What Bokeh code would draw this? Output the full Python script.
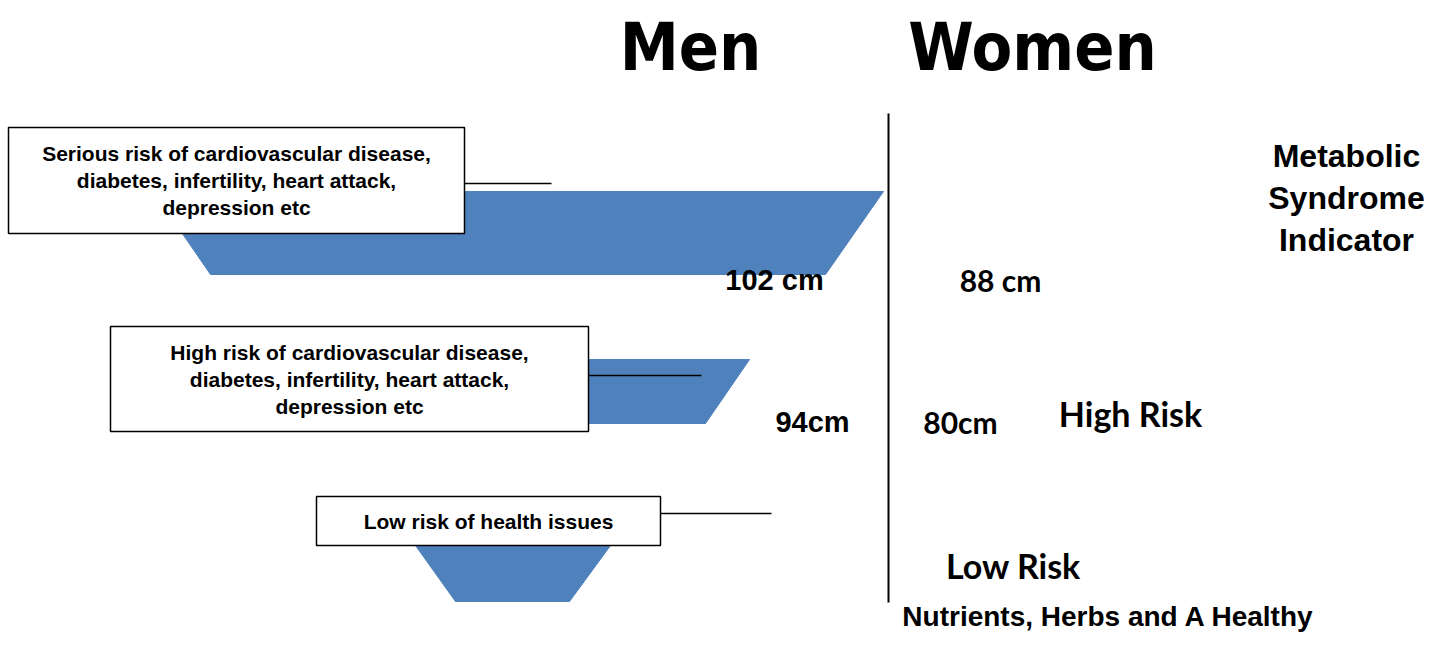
from bokeh.plotting import figure
from bokeh.models import Range1d
from bokeh.core.properties import value
from bokeh.embed import file_html
from bokeh.resources import INLINE

# ---- content ----
headers = ["Men", "Women"]
risk_texts = [
    ["Serious risk of cardiovascular disease,", "diabetes, infertility, heart attack,", "depression etc"],
    ["High risk of cardiovascular disease,", "diabetes, infertility, heart attack,", "depression etc"],
    ["Low risk of health issues"],
]
men_cutoffs = ["102 cm", "94cm"]
women_cutoffs = ["88 cm", "80cm"]
level_labels = [["Metabolic", "Syndrome", "Indicator"], ["High Risk"], ["Low Risk"]]
footer = "Nutrients, Herbs and A Healthy"

# ---- geometry of the three funnel tiers ----
tier_top_y = [191, 359, 545]
tier_bot_y = [274, 423, 601]
tier_top_x0 = [153, 320, 415]
tier_top_x1 = [883, 749, 610]
tier_bot_x0 = [210, 364, 455]
tier_bot_x1 = [825, 705, 569]

box_x0 = [8, 110, 316]
box_x1 = [464, 588, 660]
box_y0 = [127, 326, 496]
box_y1 = [233, 431, 545]
lead_y = [183, 375, 513]
lead_x1 = [551, 701, 771]

W, H = 1427, 636
p = figure(width=W, height=H, x_range=Range1d(0, W), y_range=Range1d(H, 0),
           output_backend="svg", toolbar_location=None, min_border=0,
           x_axis_type=None, y_axis_type=None)
p.grid.visible = False
p.outline_line_color = None
p.background_fill_color = "white"
p.border_fill_color = "white"

BLUE = "#4F81BD"
xs = [[a, b, d, c] for a, b, c, d in zip(tier_top_x0, tier_top_x1, tier_bot_x0, tier_bot_x1)]
ys = [[t, t, b, b] for t, b in zip(tier_top_y, tier_bot_y)]
p.patches(xs, ys, fill_color=BLUE, line_color=BLUE, line_width=1)

# leader lines
p.segment(x0=box_x1, y0=lead_y, x1=lead_x1, y1=lead_y, line_color="black", line_width=1.5)

# boxes
p.quad(left=box_x0, right=box_x1, top=box_y0, bottom=box_y1,
       fill_color="white", line_color="black", line_width=1.5)

# divider
p.segment(x0=[888], y0=[113], x1=[888], y1=[602], line_color="black", line_width=2)

# box texts
tx, ty, tt = [], [], []
for i, lines in enumerate(risk_texts):
    cx = (box_x0[i] + box_x1[i]) / 2
    cy = (box_y0[i] + box_y1[i]) / 2
    n = len(lines)
    for j, s in enumerate(lines):
        tx.append(cx)
        ty.append(cy + (j - (n - 1) / 2) * 27)
        tt.append(s)
p.text(x=tx, y=ty, text=tt, text_align="center", text_baseline="middle",
       text_font=value("Liberation Sans"), text_font_style="bold",
       text_font_size="21px", text_color="black")

# headers
p.text(x=[690, 1032], y=[47, 47], text=headers, text_align="center", text_baseline="middle",
       text_font=value("DejaVu Sans Condensed"), text_font_style="bold",
       text_font_size="66px", text_color="black")

# men cutoffs
p.text(x=[774, 812], y=[279, 421], text=men_cutoffs, text_align="center", text_baseline="middle",
       text_font=value("Liberation Sans"), text_font_style="bold",
       text_font_size="29px", text_color="black")

# women cutoffs
p.text(x=[1000, 960], y=[279, 421], text=women_cutoffs, text_align="center", text_baseline="middle",
       text_font=value("Lato"), text_font_style="bold",
       text_font_size="30px", text_color="black")

# level labels
meta = level_labels[0]
p.text(x=[1346] * 3, y=[155 + 42 * k for k in range(3)], text=meta, text_align="center",
       text_baseline="middle", text_font=value("Liberation Sans"), text_font_style="bold",
       text_font_size="32px", text_color="black")
p.text(x=[1130, 1013], y=[413, 565], text=[level_labels[1][0], level_labels[2][0]],
       text_align="center", text_baseline="middle", text_font=value("Lato"),
       text_font_style="bold", text_font_size="34px", text_color="black")

p.text(x=[1108], y=[631], text=[footer], text_align="center", text_baseline="bottom",
       text_font=value("Liberation Sans"), text_font_style="bold",
       text_font_size="28px", text_color="black")

open("out.html", "w").write(file_html(p, INLINE))
